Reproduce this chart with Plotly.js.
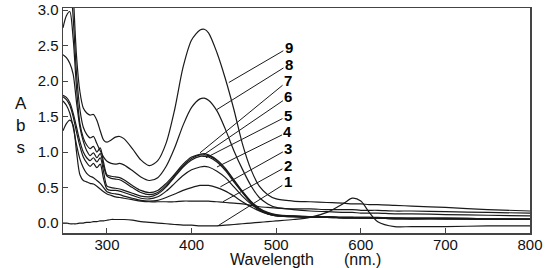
<!DOCTYPE html>
<html>
<head>
<meta charset="utf-8">
<script src="https://cdn.plot.ly/plotly-3.0.1.min.js"></script>
<style>html,body{margin:0;padding:0;background:#fff}#chart{width:548px;height:268px}</style>
</head>
<body>
<div id="chart"></div>
<script>
// Wavelength grid (nm)
const wavelength = [248,252,256,260,264,268,272,276,280,284,288,292,296,300,305,310,315,320,330,340,350,360,370,380,390,400,410,415,420,430,440,450,460,470,480,490,500,520,540,560,580,590,600,610,620,640,660,700,750,800];

// Absorbance spectra 1..9
const abs1 = [0.00,0.00,-0.01,-0.01,-0.01,0.00,0.00,0.01,0.01,0.02,0.02,0.03,0.03,0.04,0.05,0.05,0.05,0.05,0.04,0.02,0.01,0.00,-0.01,-0.02,-0.03,-0.03,-0.04,-0.04,-0.04,-0.04,-0.03,-0.02,-0.01,0.00,0.01,0.02,0.03,0.05,0.08,0.15,0.28,0.35,0.31,0.15,0.02,-0.05,-0.05,-0.05,-0.04,-0.04];
const abs2 = [1.30,1.40,1.45,1.38,1.00,0.68,0.60,0.58,0.56,0.55,0.52,0.48,0.44,0.41,0.39,0.37,0.36,0.35,0.33,0.31,0.30,0.30,0.30,0.30,0.31,0.31,0.31,0.31,0.31,0.30,0.29,0.28,0.27,0.25,0.23,0.22,0.21,0.20,0.20,0.19,0.19,0.19,0.18,0.18,0.18,0.17,0.17,0.16,0.15,0.14];
const abs3 = [1.72,1.66,1.55,1.35,1.10,0.90,0.78,0.70,0.66,0.64,0.60,0.56,0.50,0.44,0.42,0.41,0.40,0.38,0.35,0.32,0.31,0.32,0.36,0.41,0.46,0.50,0.53,0.53,0.53,0.50,0.45,0.38,0.30,0.23,0.17,0.13,0.11,0.10,0.09,0.09,0.08,0.08,0.08,0.08,0.07,0.07,0.07,0.07,0.06,0.06];
const abs4 = [1.78,1.74,1.66,1.50,1.28,1.08,0.93,0.85,0.80,0.84,0.78,0.83,0.62,0.48,0.46,0.46,0.45,0.43,0.39,0.35,0.34,0.37,0.45,0.56,0.67,0.75,0.79,0.80,0.79,0.73,0.64,0.51,0.38,0.27,0.18,0.13,0.10,0.09,0.08,0.08,0.07,0.07,0.07,0.07,0.07,0.06,0.06,0.06,0.05,0.05];
const abs5 = [1.80,1.77,1.70,1.55,1.35,1.15,1.00,0.92,0.88,0.92,0.86,0.92,0.72,0.52,0.50,0.49,0.48,0.46,0.42,0.38,0.37,0.41,0.51,0.65,0.79,0.89,0.94,0.94,0.93,0.86,0.74,0.58,0.43,0.29,0.19,0.13,0.10,0.09,0.08,0.08,0.07,0.07,0.07,0.07,0.07,0.06,0.06,0.06,0.05,0.05];
const abs6 = [2.37,2.33,2.25,2.10,1.70,1.35,1.15,1.02,0.95,0.99,0.92,0.98,0.80,0.66,0.63,0.62,0.61,0.58,0.50,0.43,0.40,0.43,0.53,0.67,0.81,0.91,0.96,0.96,0.95,0.88,0.76,0.60,0.44,0.30,0.20,0.14,0.11,0.09,0.09,0.08,0.08,0.08,0.07,0.07,0.07,0.07,0.06,0.06,0.06,0.05];
const abs7 = [2.75,2.92,2.98,2.60,1.90,1.40,1.20,1.10,1.05,1.08,1.00,1.06,0.85,0.68,0.66,0.65,0.64,0.61,0.53,0.46,0.43,0.46,0.56,0.69,0.83,0.93,0.97,0.98,0.96,0.89,0.77,0.61,0.45,0.31,0.21,0.15,0.12,0.10,0.09,0.09,0.08,0.08,0.08,0.08,0.08,0.07,0.07,0.07,0.06,0.06];
const abs8 = [4.00,3.80,3.50,2.90,2.10,1.60,1.35,1.25,1.20,1.22,1.12,1.02,0.93,0.87,0.84,0.83,0.84,0.82,0.74,0.65,0.60,0.64,0.80,1.06,1.38,1.63,1.75,1.76,1.73,1.58,1.32,1.02,0.76,0.53,0.36,0.27,0.22,0.19,0.17,0.16,0.15,0.15,0.14,0.14,0.14,0.13,0.13,0.12,0.11,0.10];
const abs9 = [4.50,4.30,4.00,3.25,2.35,1.85,1.62,1.55,1.52,1.53,1.45,1.30,1.17,1.14,1.17,1.21,1.22,1.19,1.05,0.89,0.81,0.88,1.13,1.60,2.20,2.58,2.72,2.73,2.68,2.40,2.03,1.60,1.12,0.76,0.52,0.40,0.34,0.31,0.30,0.29,0.28,0.27,0.27,0.26,0.26,0.25,0.24,0.22,0.19,0.17];

const series = [abs1,abs2,abs3,abs4,abs5,abs6,abs7,abs8,abs9];
const seriesLabels = ['1','2','3','4','5','6','7','8','9'];

// Leader-line anchor points on each curve (nm, absorbance) and label offsets
const labelAnchorX = [431, 437, 434, 430, 417, 414, 410, 430, 444];
const labelAnchorY = [-0.04, 0.30, 0.51, 0.79, 0.92, 0.96, 0.99, 1.60, 1.98];
const labelAx = [70, 65, 68, 71, 82, 85, 88, 72, 60];
const labelAy = [-44, -36, -38, -35, -42, -58, -72, -45, -35];

const xTicks = [300,400,500,600,700,800];
const yTicks = [0,0.5,1.0,1.5,2.0,2.5,3.0];

const traces = series.map((s,i)=>({
  x: wavelength, y: s, type:'scatter', mode:'lines',
  line:{color:'#1a1a1a', width:1.2, shape:'spline', smoothing:0.8},
  hoverinfo:'skip', showlegend:false, name: seriesLabels[i]
}));

const FONT = 'Liberation Sans, Arial, sans-serif';
const annotations = seriesLabels.map((t,i)=>({
  x: labelAnchorX[i], y: labelAnchorY[i], xref:'x', yref:'y',
  text:'<b>'+t+'</b>', showarrow:true, arrowhead:0, arrowwidth:1, arrowcolor:'#1a1a1a',
  ax: labelAx[i], ay: labelAy[i], standoff:0,
  font:{family:FONT, size:15, color:'#000'}
}));
annotations.push({xref:'paper', yref:'paper', x:-0.09, y:0.48, xanchor:'center', yanchor:'middle',
  text:'A<br>b<br>s', showarrow:false, font:{family:FONT, size:17, color:'#111'}, align:'center'});
annotations.push({xref:'paper', yref:'paper', x:0.4465, y:-0.116, xanchor:'center', yanchor:'middle',
  text:'Wavelength', showarrow:false, font:{family:FONT, size:16, color:'#111'}});
annotations.push({xref:'paper', yref:'paper', x:0.642, y:-0.116, xanchor:'center', yanchor:'middle',
  text:'(nm.)', showarrow:false, font:{family:FONT, size:16, color:'#111'}});

const layout = {
  width:548, height:268,
  margin:{l:63, r:18, t:8, b:35, pad:0},
  paper_bgcolor:'#fff', plot_bgcolor:'#fff',
  font:{family:FONT, color:'#111'},
  xaxis:{range:[248,800], tickvals:xTicks, ticktext:xTicks.map(String), ticks:'inside', ticklen:5, tickcolor:'#444',
    ticklabelstandoff:-3,
    showline:true, mirror:true, linecolor:'#444', linewidth:1.5, showgrid:false, zeroline:false,
    tickfont:{size:15, color:'#111'}},
  yaxis:{range:[-0.14,3.03], tickvals:yTicks, ticktext:yTicks.map(v=>v.toFixed(1)), ticks:'inside', ticklen:5, tickcolor:'#444',
    showline:true, mirror:true, linecolor:'#444', linewidth:1.5, showgrid:false, zeroline:false,
    tickfont:{size:15, color:'#111'}},
  annotations: annotations
};

Plotly.newPlot('chart', traces, layout, {staticPlot:true, displayModeBar:false});
</script>
</body>
</html>
